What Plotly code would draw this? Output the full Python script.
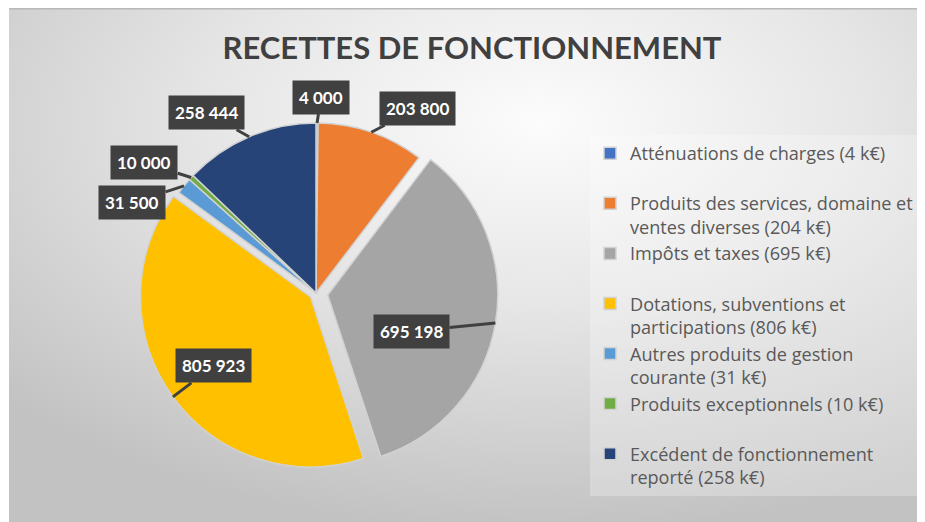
import math
import base64
import plotly.graph_objects as go

# ---------------- data ----------------
categories = [
    "Atténuations de charges (4 k€)",
    "Produits des services, domaine et<br>ventes diverses (204 k€)",
    "Impôts et taxes (695 k€)",
    "Dotations, subventions et<br>participations (806 k€)",
    "Autres produits de gestion<br>courante (31 k€)",
    "Produits exceptionnels (10 k€)",
    "Excédent de fonctionnement<br>reporté (258 k€)",
]
values = [4000, 203800, 695198, 805923, 31500, 10000, 258444]
colors = ["#4472C4", "#ED7D31", "#A5A5A5", "#FFC000", "#5B9BD5", "#70AD47", "#264478"]
pulls = [0, 0, 0.07, 0.04, 0, 0, 0]
# callout box offsets (px) relative to the slice edge point
label_dx = [4, 46, -84, 41, -52, -47, -43]
label_dy = [-26, -24, 8, -31, 17, -15, -24]

# page body has an 8px margin: the figure starts at (8, 8) in the window
OFF = 8
W, H = 917, 514


def px2paper(rx, ry):
    return (rx - OFF) / W, 1 - (ry - OFF) / H


CX, CY = 316, 293      # pie centre (window px)
R = 170                # pie radius px

max_pull = max(pulls)
half = R * (1 + max_pull)
x0, y1 = px2paper(CX - half, CY - half)
x1, y0 = px2paper(CX + half, CY + half)

# legend labels padded to 2 lines each (Excel-like spacing)
legend_labels = [c if "<br>" in c else c + "<br>\u00a0" for c in categories]

fig = go.Figure()
fig.add_trace(go.Pie(
    labels=legend_labels,
    values=values,
    sort=False,
    direction="clockwise",
    rotation=0,
    pull=pulls,
    marker=dict(colors=colors, line=dict(color="#d2d2d2", width=1.5)),
    textinfo="none",
    hoverinfo="label+value",
    domain=dict(x=[x0, x1], y=[y0, y1]),
))

# callout annotations
total = sum(values)
cum = 0
annotations = []
for v, dx, dy, p in zip(values, label_dx, label_dy, pulls):
    mid = (cum + v / 2) / total * 2 * math.pi
    cum += v
    sx, sy = math.sin(mid), -math.cos(mid)
    px = CX + (R + p * R) * sx
    py = CY + (R + p * R) * sy
    ax_, ay_ = px2paper(px, py)
    annotations.append(dict(
        x=ax_, y=ay_, xref="paper", yref="paper",
        ax=dx, ay=dy, axref="pixel", ayref="pixel",
        text="<b>" + f"{v:,}".replace(",", " ") + "</b>",
        showarrow=True, arrowhead=0, arrowwidth=3, arrowcolor="#404040",
        standoff=0, startstandoff=0,
        bgcolor="#404040", borderpad=6,
        font=dict(family="Lato", size=17, color="white"),
    ))

# radial gradient background (svg data uri)
svg = ("<svg xmlns='http://www.w3.org/2000/svg' width='916' height='514'>"
       "<defs><radialGradient id='g' cx='0.58' cy='0.22' r='0.8'>"
       "<stop offset='0' stop-color='#fcfcfc'/>"
       "<stop offset='0.45' stop-color='#e6e6e6'/>"
       "<stop offset='1' stop-color='#c2c2c2'/>"
       "</radialGradient></defs>"
       "<rect width='916' height='514' fill='url(#g)'/></svg>")
src = "data:image/svg+xml;base64," + base64.b64encode(svg.encode()).decode()

ix, iy = px2paper(9, 8)
tx, ty = px2paper(472, 48)
lx, ly = px2paper(590, 135)

fig.update_layout(
    width=W, height=H,
    margin=dict(l=0, r=0, t=0, b=0),
    paper_bgcolor="white",
    images=[dict(source=src, xref="paper", yref="paper",
                 x=ix, y=iy, sizex=1 - ix, sizey=1,
                 xanchor="left", yanchor="top", sizing="stretch", layer="below")],
    shapes=[dict(type="line", xref="paper", yref="paper",
                 x0=ix, x1=1, y0=1 - 0.8 / H, y1=1 - 0.8 / H,
                 line=dict(color="#b8b8b8", width=1.5))],
    title=dict(text="<b>RECETTES DE FONCTIONNEMENT</b>",
               x=tx, xanchor="center", y=ty, yanchor="middle",
               font=dict(family="Lato", size=31, color="#404040")),
    legend=dict(x=lx, y=ly, xanchor="left", yanchor="top",
                bgcolor="rgba(255,255,255,0.25)", valign="top",
                font=dict(family="Open Sans", size=18.1, color="#595959"),
                itemclick=False, itemdoubleclick=False),
    annotations=annotations,
    showlegend=True,
)

fig.write_html("out.html")
